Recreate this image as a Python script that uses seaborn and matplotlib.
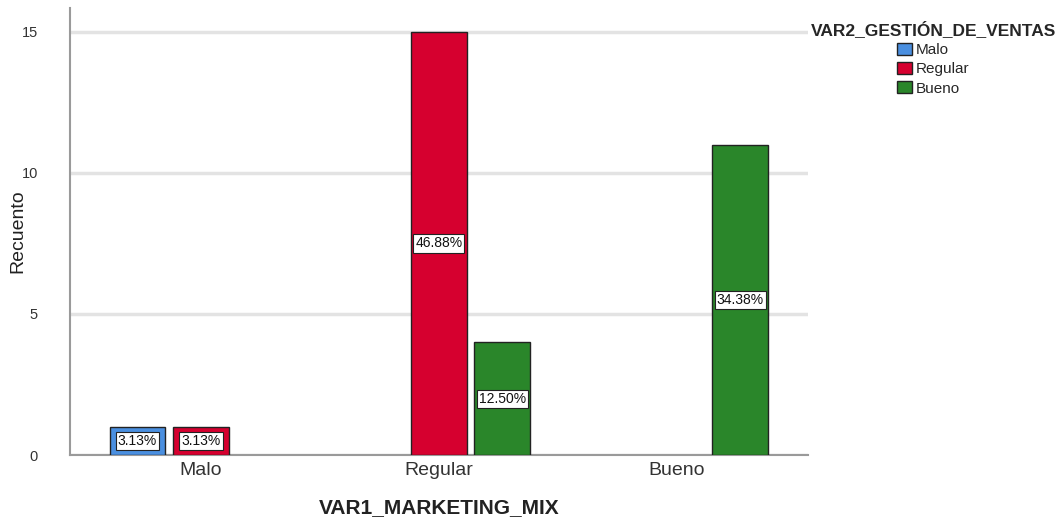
import matplotlib
matplotlib.use("Agg")
import matplotlib.pyplot as plt
import seaborn as sns
import pandas as pd
from decimal import Decimal, ROUND_HALF_UP
from matplotlib.patches import Patch

# Counts of VAR2 levels within each VAR1 level
var1_levels = ["Malo", "Regular", "Bueno"]
var2_levels = ["Malo", "Regular", "Bueno"]
count_malo = [1, 0, 0]      # VAR2 = Malo
count_regular = [1, 15, 0]  # VAR2 = Regular
count_bueno = [0, 4, 11]    # VAR2 = Bueno
colors = ["#4a8fe0", "#d6002f", "#2a862a"]

rows = []
for lvl2, counts in zip(var2_levels, [count_malo, count_regular, count_bueno]):
    for lvl1, c in zip(var1_levels, counts):
        if c > 0:
            rows.append({"VAR1_MARKETING_MIX": lvl1, "VAR2_GESTIÓN_DE_VENTAS": lvl2, "Recuento": c})
df = pd.DataFrame(rows)
total = int(df["Recuento"].sum())


def pct_label(count):
    v = Decimal(count) * Decimal(100) / Decimal(total)
    return f"{v.quantize(Decimal('0.01'), rounding=ROUND_HALF_UP)}%"


sns.set_style("white")
plt.rcParams["font.family"] = ["Liberation Sans", "DejaVu Sans"]

fig = plt.figure(figsize=(10.64, 5.19), dpi=100)
ax = fig.add_axes([0.0658, 0.1233, 0.6932, 0.8613])

palette = dict(zip(var2_levels, colors))
sns.barplot(data=df, x="VAR1_MARKETING_MIX", y="Recuento", hue="VAR2_GESTIÓN_DE_VENTAS",
            order=var1_levels, hue_order=var2_levels, palette=palette, saturation=1,
            width=0.8, gap=0.12, edgecolor="#222222", linewidth=1.0,
            errorbar=None, legend=False, ax=ax, zorder=3)

# Percentage labels at mid-height of each bar
for p in ax.patches:
    h = p.get_height()
    if h <= 0:
        continue
    xc = p.get_x() + p.get_width() / 2
    ax.text(xc, h / 2, pct_label(h),
            ha="center", va="center", fontsize=10, color="#111111", zorder=5,
            bbox=dict(boxstyle="square,pad=0.15", facecolor="white", edgecolor="#222222", linewidth=0.8))

ax.set_xlim(-0.55, 2.55)
ax.set_ylim(0, 15.85)
ax.set_yticks([0, 5, 10, 15])
ax.yaxis.grid(True, color="#e3e3e3", linewidth=2.5, zorder=0)
ax.xaxis.grid(False)
ax.set_axisbelow(True)

for s in ["top", "right"]:
    ax.spines[s].set_visible(False)
for s in ["left", "bottom"]:
    ax.spines[s].set_color("#9a9a9a")
    ax.spines[s].set_linewidth(1.5)

ax.tick_params(axis="y", length=0, pad=23, labelsize=10.5, labelcolor="#333333")
ax.tick_params(axis="x", length=0, pad=5, labelsize=14, labelcolor="#333333")
ax.set_xlabel("VAR1_MARKETING_MIX", fontsize=15, fontweight="bold", color="#222222")
ax.xaxis.label.set_va("center")
ax.xaxis.set_label_coords(0.5, -0.1185)
ax.set_ylabel("Recuento", fontsize=14, color="#222222")
ax.yaxis.label.set_va("center")
ax.yaxis.set_label_coords(-0.0705, 0.501)

handles = [Patch(facecolor=c, edgecolor="#222222", linewidth=1.0) for c in colors]
leg = fig.legend(handles, var2_levels, title="VAR2_GESTIÓN_DE_VENTAS",
                 loc="upper center", bbox_to_anchor=(0.877, 0.98), frameon=False,
                 fontsize=11, title_fontproperties={"weight": "bold", "size": 12.5},
                 handlelength=0.95, handleheight=0.8, handletextpad=0.25,
                 labelspacing=0.33, borderpad=0.2)

fig.savefig("out.png", dpi=100)
